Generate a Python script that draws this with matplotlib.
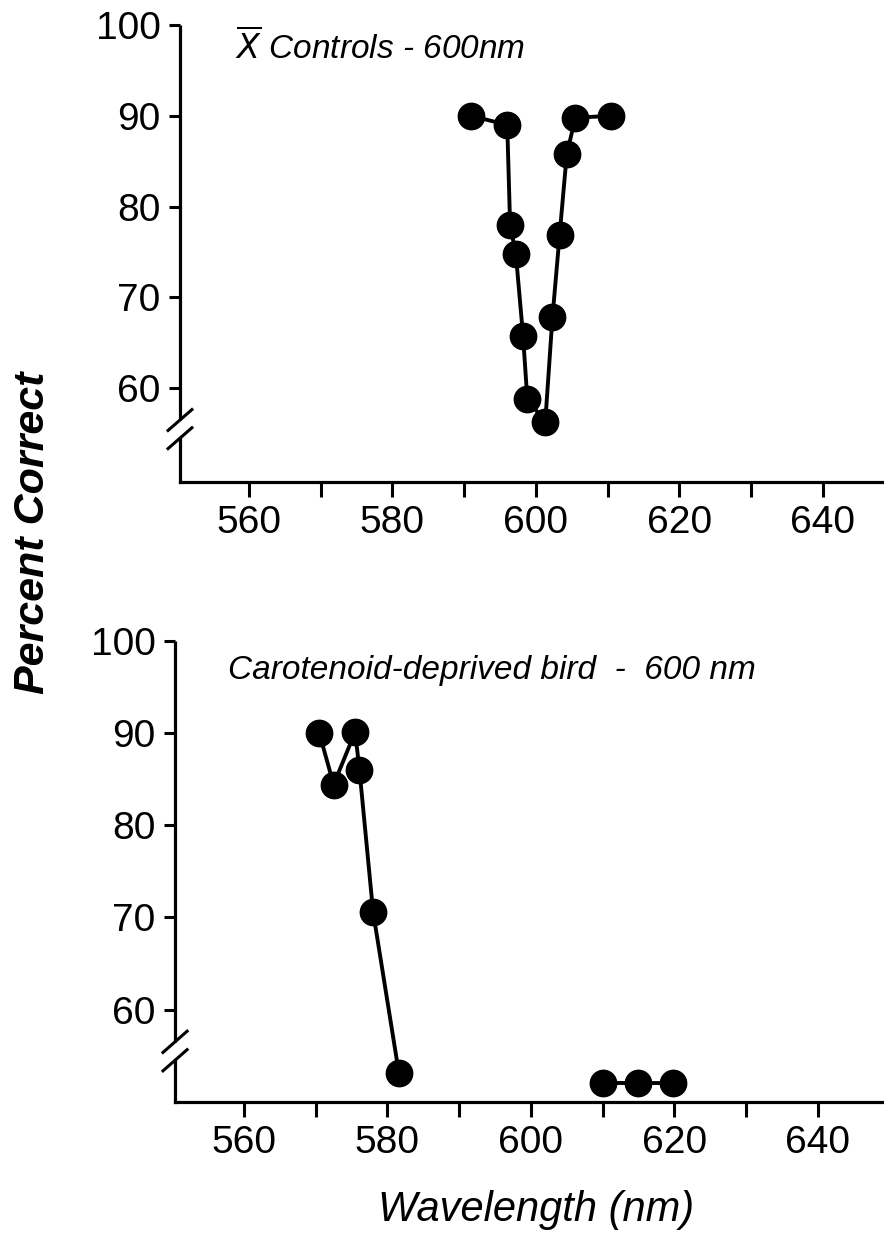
import matplotlib.pyplot as plt
from matplotlib.lines import Line2D

# values
ctrl_wl = [591.0, 596.0, 596.4, 597.2, 598.2, 598.8, 601.3, 602.3, 603.3, 604.3, 605.5, 610.5]
ctrl_pc = [90.0, 89.0, 78.0, 74.8, 65.8, 58.8, 56.3, 67.8, 76.9, 85.8, 89.8, 90.0]

carot_wl_a = [570.5, 572.5, 575.5, 576.1, 578.0, 581.6]
carot_pc_a = [90.0, 84.4, 90.1, 86.0, 70.6, 53.1]
carot_wl_b = [610.0, 614.9, 619.8]
carot_pc_b = [52.0, 52.0, 52.0]

xticks = [560, 570, 580, 590, 600, 610, 620, 630, 640]
xticklabels = ["560", "", "580", "", "600", "", "620", "", "640"]
yticks = [60, 70, 80, 90, 100]

plt.rcParams["font.family"] = ["Liberation Sans", "DejaVu Sans"]

fig = plt.figure(figsize=(8.84, 12.41), dpi=100)
ax_top = fig.add_axes([0.2036, 0.6118, 0.7964, 0.368])
ax_bot = fig.add_axes([0.198, 0.1122, 0.802, 0.3715])


def style_axis(ax, xlim, ylim):
    ax.set_xlim(*xlim)
    ax.set_ylim(*ylim)
    for side in ["top", "right"]:
        ax.spines[side].set_visible(False)
    ax.spines["bottom"].set_linewidth(2.3)
    ax.spines["left"].set_visible(False)
    ax.set_xticks(xticks)
    ax.set_xticklabels(xticklabels)
    ax.set_yticks(yticks)
    ax.tick_params(axis="x", direction="out", length=11, width=2.2, pad=6, labelsize=28)
    ax.tick_params(axis="y", direction="out", length=8, width=2.2, pad=6, labelsize=28)

    # left axis drawn in two pieces with a "//" break
    tr = ax.get_yaxis_transform()
    lw = 2.3
    ax.add_line(Line2D([0, 0], [56.5, ylim[1]], transform=tr, color="black",
                       lw=lw, clip_on=False, solid_capstyle="butt"))
    ax.add_line(Line2D([0, 0], [ylim[0], 54.5], transform=tr, color="black",
                       lw=lw, clip_on=False, solid_capstyle="projecting"))
    dx = 0.017
    for yc in (56.5, 54.5):
        ax.add_line(Line2D([-dx, dx], [yc - 1.15, yc + 1.15], transform=tr,
                           color="black", lw=2.2, clip_on=False))


style_axis(ax_top, (550.4, 648.5), (49.7, 100))
style_axis(ax_bot, (550.4, 649.2), (50.0, 100))

ax_top.plot(ctrl_wl, ctrl_pc, "-o", color="black", lw=2.8, markersize=19, clip_on=False)
ax_bot.plot(carot_wl_a, carot_pc_a, "-o", color="black", lw=2.8, markersize=19, clip_on=False)
ax_bot.plot(carot_wl_b, carot_pc_b, "-o", color="black", lw=2.8, markersize=19, clip_on=False)

fig.text(235 / 884, 1 - 47 / 1241, r"$\overline{X}$ Controls - 600nm", fontsize=24,
         style="italic", ha="left", va="center")
fig.text(228 / 884, 1 - 670 / 1241, "Carotenoid-deprived bird  -  600 nm", fontsize=24,
         style="italic", ha="left", va="center")

fig.text(33 / 884, 1 - 533 / 1241, "Percent Correct", rotation=90, fontsize=31,
         style="italic", fontweight="bold", ha="center", va="center")
fig.text(536 / 884, 1 - 1210 / 1241, "Wavelength (nm)", fontsize=30,
         style="italic", ha="center", va="center")

fig.savefig("out.png", dpi=100)
